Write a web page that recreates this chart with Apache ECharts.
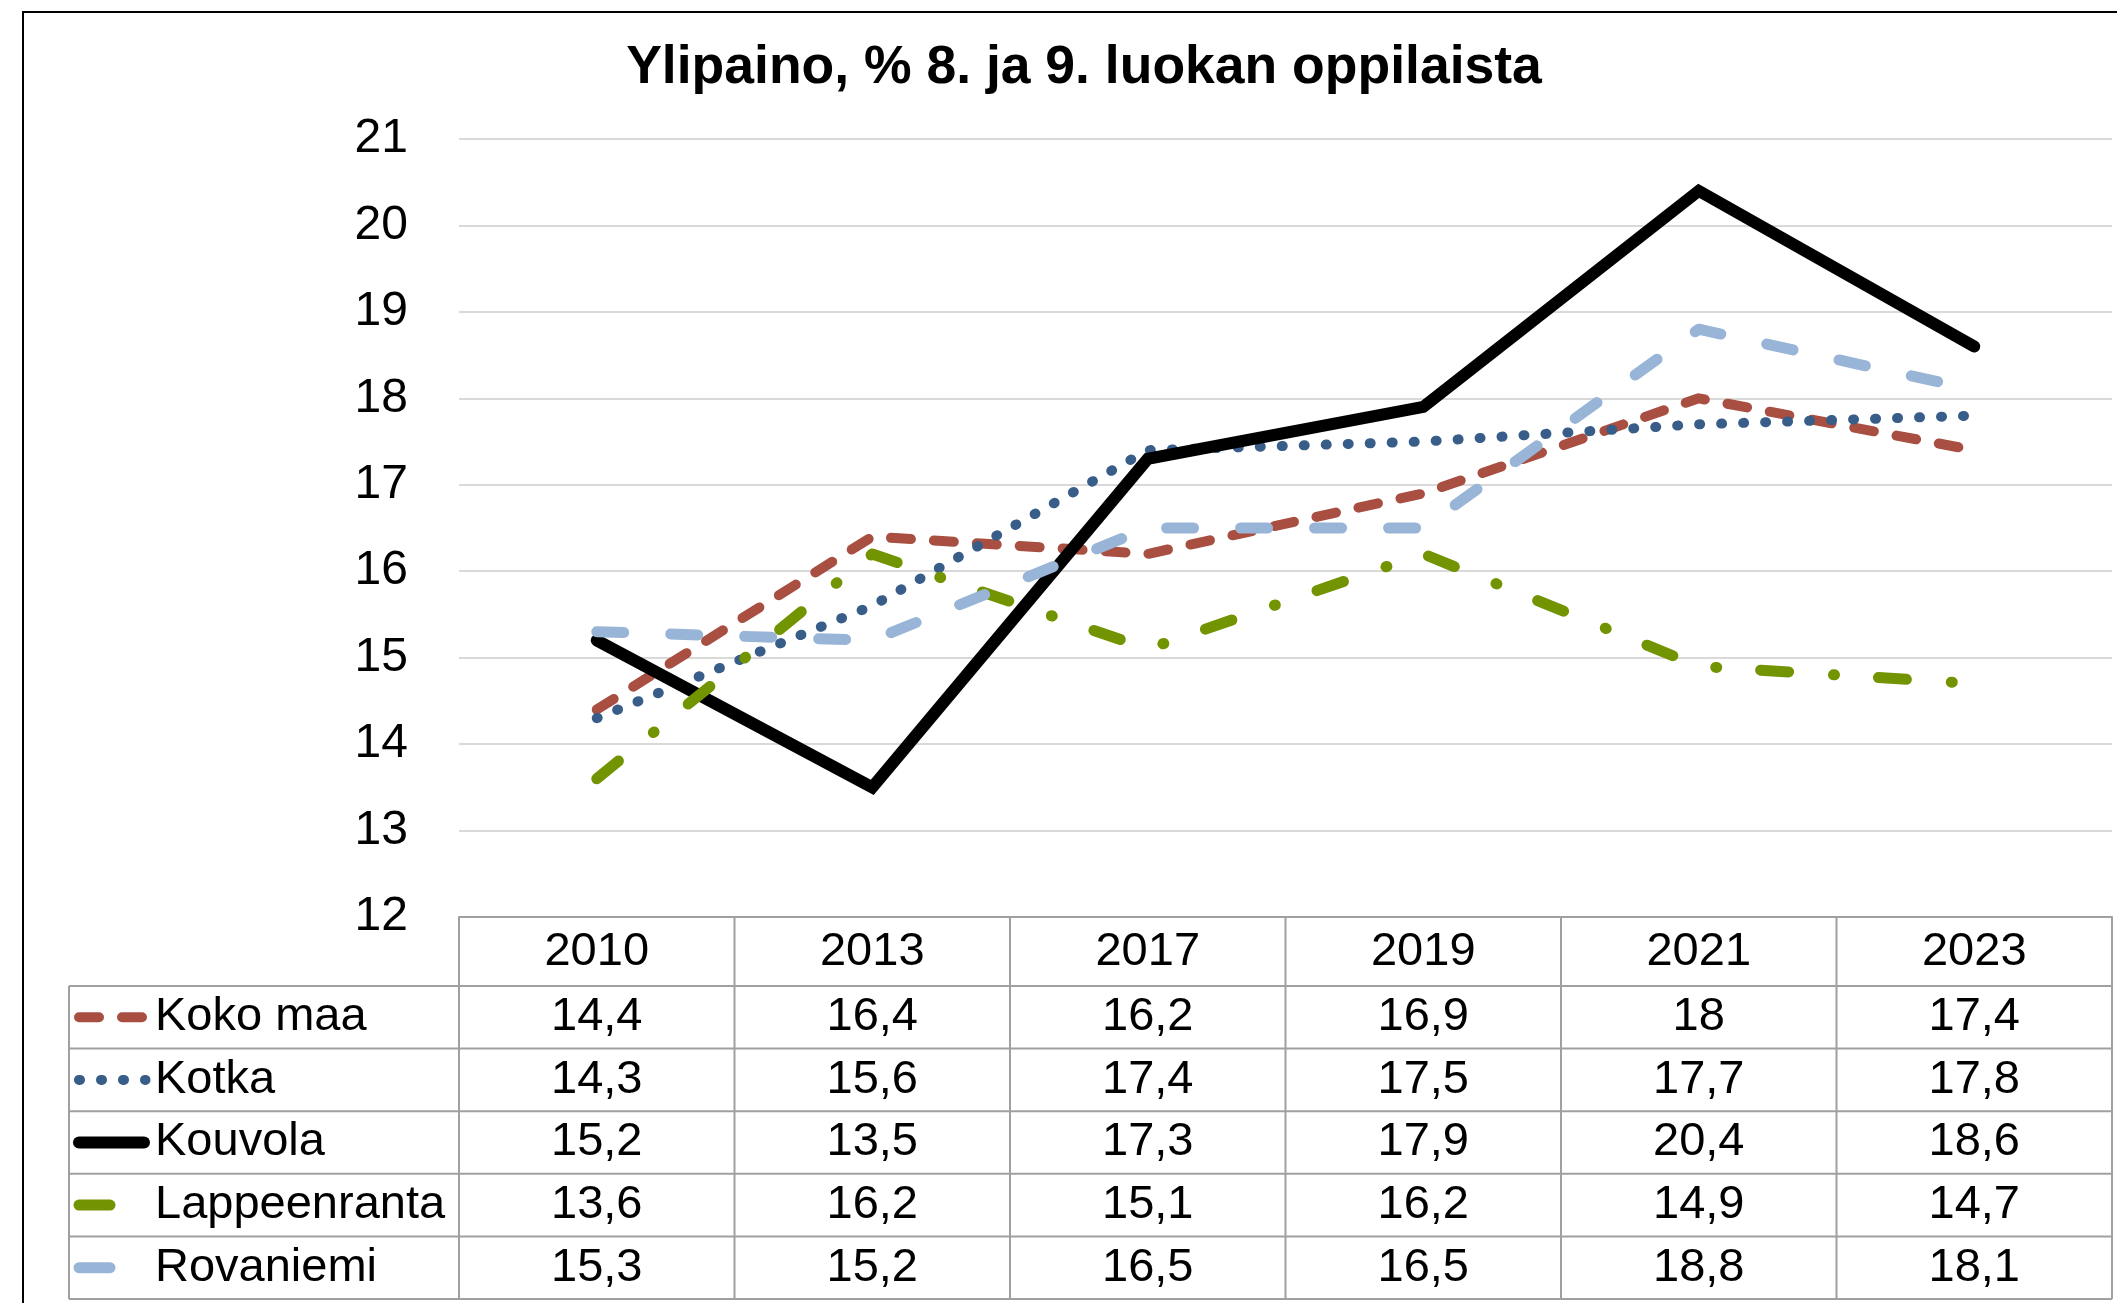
<!DOCTYPE html>
<html>
<head>
<meta charset="utf-8">
<title>Ylipaino, % 8. ja 9. luokan oppilaista</title>
<script src="https://cdn.jsdelivr.net/npm/echarts@6/dist/echarts.min.js"></script>
<style>
html, body { margin: 0; padding: 0; background: #fff; }
#main { width: 2117px; height: 1303px; }
</style>
</head>
<body>
<div id="main"></div>
<script>
// data (table under the plot)
var years = ["2010", "2013", "2017", "2019", "2021", "2023"];
var kokoMaa = [14.4, 16.4, 16.2, 16.9, 18, 17.4];
var kotka = [14.3, 15.6, 17.4, 17.5, 17.7, 17.8];
var kouvola = [15.2, 13.5, 17.3, 17.9, 20.4, 18.6];
var lappeenranta = [13.6, 16.2, 15.1, 16.2, 14.9, 14.7];
var rovaniemi = [15.3, 15.2, 16.5, 16.5, 18.8, 18.1];
var seriesNames = ["Koko maa", "Kotka", "Kouvola", "Lappeenranta", "Rovaniemi"];
var seriesData = [kokoMaa, kotka, kouvola, lappeenranta, rovaniemi];
var yMin = 12, yMax = 21, yStep = 1;

// line looks, same order as seriesNames
var styles = [
  { color: "#a84f42", width: 10, dash: [20, 23] },
  { color: "#375d88", width: 10, dash: [1, 21] },
  { color: "#000000", width: 12, dash: "solid", join: "miter" },
  { color: "#729400", width: 11, dash: [28, 45, 1, 44] },
  { color: "#98b4d6", width: 11, dash: [27, 47] },
];

var FONT = '"Liberation Sans", Arial, sans-serif';
var gridLeft = 459, gridRight = 2112, gridTop = 139, gridBottom = 917;
var headerBottom = 986, rowH = 62.6, legendLeft = 69;
var tableBottom = headerBottom + rowH * seriesNames.length;
var lineColor = "#a0a0a0";

var myChart = echarts.init(document.getElementById("main"));

var series = seriesNames.map(function (name, i) {
  return {
    name: name,
    type: "line",
    data: seriesData[i],
    symbol: "none",
    silent: true,
    lineStyle: {
      color: styles[i].color,
      width: styles[i].width,
      type: styles[i].dash,
      cap: "round",
      join: styles[i].join || "round",
    },
  };
});

myChart.setOption({
  animation: false,
  title: {
    text: "Ylipaino, % 8. ja 9. luokan oppilaista",
    left: 1079,
    top: 63,
    textAlign: "center",
    textVerticalAlign: "middle",
    textStyle: { fontFamily: FONT, fontSize: 53.5, fontWeight: "bold", color: "#000" },
  },
  grid: {
    left: gridLeft,
    right: 2117 - gridRight,
    top: gridTop,
    bottom: 1303 - gridBottom,
    containLabel: false,
    outerBoundsMode: "none",
  },
  xAxis: {
    type: "category",
    data: years,
    boundaryGap: true,
    axisLine: { lineStyle: { color: lineColor, width: 2 } },
    axisTick: { show: false },
    axisLabel: { margin: 35, fontSize: 47, color: "#000", fontFamily: FONT, verticalAlign: "middle" },
  },
  yAxis: {
    type: "value",
    min: yMin,
    max: yMax,
    interval: yStep,
    axisLine: { show: false },
    axisTick: { show: false },
    axisLabel: { margin: 51, fontSize: 48, color: "#000", fontFamily: FONT, padding: [4, 0, 0, 0] },
    splitLine: { lineStyle: { color: "#d9d9d9", width: 2 } },
  },
  series: series,
});

// data table under the plot
function hLine(x1, x2, y) {
  return { type: "line", silent: true, shape: { x1: x1, y1: y, x2: x2, y2: y }, style: { stroke: lineColor, lineWidth: 2 } };
}
function vLine(x, y1, y2) {
  return { type: "line", silent: true, shape: { x1: x, y1: y1, x2: x, y2: y2 }, style: { stroke: lineColor, lineWidth: 2 } };
}
function label(x, y, text, align) {
  return {
    type: "text", silent: true, x: x, y: y,
    style: { text: text, fontSize: 47, fontFamily: FONT, fill: "#000", align: align, verticalAlign: "middle" },
  };
}

var els = [];
// outer chart border
els.push({ type: "rect", silent: true, shape: { x: 23, y: 12, width: 2300, height: 1500 }, style: { fill: null, stroke: "#000", lineWidth: 2 } });

var bandW = (gridRight - gridLeft) / years.length;
for (var c = 0; c <= years.length; c++) {
  els.push(vLine(gridLeft + c * bandW, gridBottom, tableBottom));
}
els.push(vLine(legendLeft, headerBottom, tableBottom));
for (var r = 0; r <= seriesNames.length; r++) {
  els.push(hLine(legendLeft, gridRight, headerBottom + r * rowH));
}

seriesNames.forEach(function (name, i) {
  var cy = headerBottom + rowH * (i + 0.5);
  els.push(label(155, cy, name, "left"));
  // legend key
  var st = styles[i];
  var x2 = 144;
  if (i === 1) x2 = 145.5;
  if (i >= 3) x2 = 110;
  els.push({
    type: "line", silent: true,
    shape: { x1: 79, y1: cy, x2: x2, y2: cy },
    style: {
      stroke: st.color, lineWidth: st.width, lineCap: "round",
      lineDash: i === 0 || i === 1 ? st.dash : null,
    },
  });
  seriesData[i].forEach(function (v, j) {
    var cx = myChart.convertToPixel({ xAxisIndex: 0 }, j);
    els.push(label(cx, cy, String(v).replace(".", ","), "center"));
  });
});

myChart.setOption({ graphic: { elements: els } });
</script>
</body>
</html>
